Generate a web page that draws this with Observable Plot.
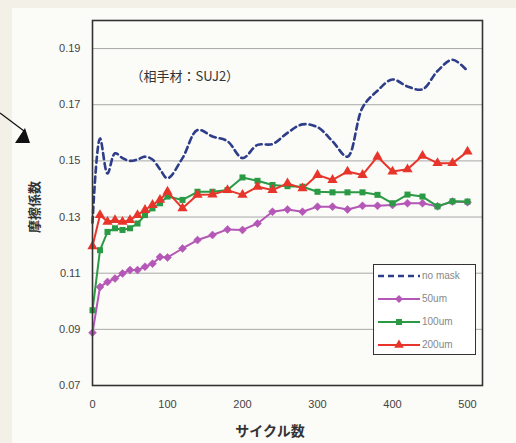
<!DOCTYPE html>
<html><head><meta charset="utf-8">
<script src="https://cdn.jsdelivr.net/npm/d3@7"></script>
<script src="https://cdn.jsdelivr.net/npm/@observablehq/plot@0.6"></script>
<style>
body{margin:0;background:#f3f1e7;}
#wrap{position:relative;width:516px;height:443px;overflow:hidden;}
#panel{position:absolute;left:12px;top:8px;width:504px;height:435px;background:#fbfbf7;}
#chart{position:absolute;left:0;top:0;}
.lab{position:absolute;font-family:"Noto Sans CJK JP",sans-serif;font-weight:bold;color:#333;font-size:14px;white-space:nowrap;}
#legend{position:absolute;left:373px;top:264px;width:101px;height:89px;border:1.5px solid #333;background:#fff;}
.row{position:absolute;left:0;height:16px;}
.row span{position:absolute;left:48px;top:0;font-family:"Liberation Sans",Arial,sans-serif;font-size:10px;color:#888;line-height:16px;}
</style></head>
<body><div id="wrap"><div id="panel"></div><div id="chart"></div>
<svg id="arrow" width="60" height="160" style="position:absolute;left:0;top:0">
<line x1="0" y1="113" x2="24" y2="131" stroke="#111" stroke-width="1.3"/>
<polygon points="15,143 30,143 25,128" fill="#111"/>
</svg>
<div class="lab" id="ylab" style="left:33px;top:207px;transform:translate(-50%,-50%) rotate(-90deg);font-size:13px;">摩擦係数</div>
<div class="lab" style="left:270px;top:430px;transform:translate(-50%,-50%);">サイクル数</div>
<div id="legend"></div>
</div>
<script>
const cycles = [0,10,20,30,40,50,60,70,80,90,100,120,140,160,180,200,220,240,260,280,300,320,340,360,380,400,420,440,460,480,500];
const noMask = [0.128,0.158,0.1455,0.1527,0.151,0.150,0.1505,0.1515,0.1505,0.147,0.1438,0.151,0.161,0.1587,0.157,0.151,0.1557,0.156,0.160,0.163,0.162,0.157,0.1515,0.169,0.175,0.179,0.1765,0.1755,0.182,0.186,0.182];
const um50 = [0.0888,0.1051,0.1069,0.1081,0.1099,0.1111,0.1111,0.1123,0.1134,0.1158,0.1156,0.1188,0.1218,0.1236,0.1256,0.1254,0.1277,0.1319,0.1327,0.1319,0.1337,0.1337,0.1327,0.1340,0.1340,0.1343,0.1349,0.1349,0.1338,0.1355,0.1353];
const um100 = [0.0968,0.1182,0.1247,0.1260,0.1254,0.1260,0.1277,0.1307,0.1331,0.1349,0.1373,0.1361,0.1390,0.1390,0.1396,0.1441,0.1429,0.1414,0.1410,0.1408,0.1390,0.1388,0.1388,0.1388,0.1379,0.1349,0.1380,0.1373,0.1338,0.1356,0.1355];
const um200 = [0.1196,0.1307,0.1283,0.1289,0.1283,0.1289,0.1307,0.1325,0.1343,0.1361,0.1390,0.1331,0.1379,0.1380,0.1396,0.1379,0.1408,0.1396,0.1420,0.1402,0.1450,0.1432,0.1462,0.1450,0.1515,0.1462,0.1470,0.1518,0.1492,0.1492,0.1533];
const seriesNames = ["no mask","50um","100um","200um"];
const seriesColors = ["#2e3d8a","#b457b6","#2a9a45","#e8352b"];
const xTicks = [0,100,200,300,400,500];
const yTicks = [0.07,0.09,0.11,0.13,0.15,0.17,0.19];
const note = "（相手材：SUJ2）";

const mk = arr => cycles.map((c,i)=>({cycle:c, value:arr[i]}));
const dBlue = mk(noMask), d50 = mk(um50), d100 = mk(um100), d200 = mk(um200);
const font = "'Liberation Sans', Arial, sans-serif";

const chart = Plot.plot({
  width:516, height:443,
  marginLeft:92, marginRight:34, marginTop:20, marginBottom:58,
  style:{background:"transparent", fontFamily:font, fontSize:"11px", color:"#444"},
  x:{domain:[0,520], grid:false},
  y:{domain:[0.07,0.20]},
  marks:[
    Plot.gridY(yTicks.filter(t=>t>0.07), {stroke:"#a8a8a8", strokeOpacity:1, strokeWidth:1}),
    Plot.axisY({ticks:yTicks, tickSize:0, tickPadding:12, tickFormat:d=>d.toFixed(2), label:null, fontSize:11}),
    Plot.axisX({ticks:xTicks, tickSize:0, tickPadding:15, label:null, fontSize:11}),
    Plot.line(dBlue, {x:"cycle", y:"value", stroke:seriesColors[0], strokeWidth:2.6, strokeDasharray:"6,4", curve:"catmull-rom"}),
    Plot.line(d50, {x:"cycle", y:"value", stroke:seriesColors[1], strokeWidth:2}),
    Plot.dot(d50, {x:"cycle", y:"value", symbol:"diamond2", r:3.6, fill:seriesColors[1], stroke:seriesColors[1], strokeWidth:0.5}),
    Plot.line(d100, {x:"cycle", y:"value", stroke:seriesColors[2], strokeWidth:2}),
    Plot.dot(d100, {x:"cycle", y:"value", symbol:"square", r:3.4, fill:seriesColors[2]}),
    Plot.line(d200, {x:"cycle", y:"value", stroke:seriesColors[3], strokeWidth:2}),
    Plot.dot(d200, {x:"cycle", y:"value", symbol:"triangle", r:3.8, fill:seriesColors[3]}),
    Plot.frame({stroke:"#333", strokeWidth:1.6}),
    Plot.text([note], {text:d=>d, frameAnchor:"top-left", dx:38, dy:51, textAnchor:"start", fontSize:13, fill:"#333", fontFamily:"'Noto Sans CJK JP', sans-serif"})
  ]
});
document.getElementById("chart").appendChild(chart);

// legend
const leg = document.getElementById("legend");
const symbols = [null, d3.symbolDiamond2, d3.symbolSquare, d3.symbolTriangle];
const sizes = [0, 40, 36, 40];
seriesNames.forEach((name,i)=>{
  const row = document.createElement("div");
  row.className = "row";
  row.style.top = (3 + i*23) + "px";
  row.style.width = "100px";
  const svg = d3.create("svg").attr("width",46).attr("height",16).style("position","absolute").style("left","0").style("top","0");
  svg.append("line").attr("x1",4).attr("x2",46).attr("y1",8).attr("y2",8)
    .attr("stroke",seriesColors[i]).attr("stroke-width", i===0?2.6:2)
    .attr("stroke-dasharray", i===0?"6,4":null);
  if (symbols[i]) svg.append("path").attr("d", d3.symbol(symbols[i], sizes[i])()).attr("transform","translate(25,8)").attr("fill",seriesColors[i]);
  row.appendChild(svg.node());
  const sp = document.createElement("span");
  sp.textContent = name;
  row.appendChild(sp);
  leg.appendChild(row);
});
</script>
</body></html>
